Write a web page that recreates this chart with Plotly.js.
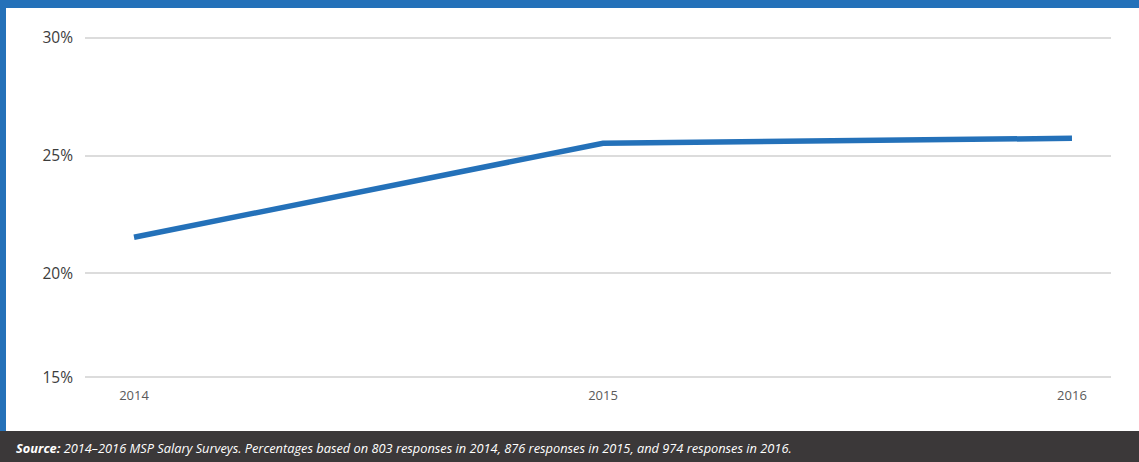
<!DOCTYPE html>
<html>
<head>
<meta charset="utf-8">
<script src="https://cdn.plot.ly/plotly-3.0.1.min.js"></script>
<style>
html,body{margin:0;padding:0;background:#fff;}
#chart{width:1139px;height:462px;}
</style>
</head>
<body>
<div id="chart"></div>
<script>
// ---- data ----
const years = [2014, 2015, 2016];
const shareValues = [21.53, 25.52, 25.73];
const yTickVals = [15.59, 20, 25, 30];
const yTickText = ["15%", "20%", "25%", "30%"];
const xTickVals = [2014, 2015, 2016];
const xTickText = ["2014", "2015", "2016"];
const sourceNote = "<b><i>Source:</i></b><i> 2014\u20132016 MSP Salary Surveys. Percentages based on 803 responses in 2014, 876 responses in 2015, and 974 responses in 2016.</i>";

// ---- layout geometry ----
const W = 1139, H = 462;
const M = {l: 85, r: 28, t: 31, b: 81};
const plotW = W - M.l - M.r, plotH = H - M.t - M.b;
const px2x = px => (px - M.l) / plotW;
const px2y = py => (H - M.b - py) / plotH;

const blue = "#2471b9";
const dark = "#3b3839";

const trace = {
  x: years,
  y: shareValues,
  type: "scatter",
  mode: "lines",
  line: {color: blue, width: 5.5},
  hoverinfo: "skip"
};

const layout = {
  width: W, height: H,
  margin: M,
  paper_bgcolor: "#ffffff",
  plot_bgcolor: "#ffffff",
  showlegend: false,
  font: {family: "Open Sans, sans-serif"},
  xaxis: {
    range: [2013.8955, 2016.0832],
    tickvals: xTickVals,
    ticktext: xTickText,
    showgrid: false,
    zeroline: false,
    showline: false,
    ticks: "",
    ticklabelstandoff: 5,
    tickfont: {family: "Open Sans, sans-serif", size: 13, color: "#5a5a5a"}
  },
  yaxis: {
    range: [15.429, 30.284],
    tickvals: yTickVals,
    ticktext: yTickText,
    showgrid: true,
    gridcolor: "#dcdcdc",
    gridwidth: 2,
    zeroline: false,
    showline: false,
    ticks: "",
    ticklabelstandoff: 11,
    tickfont: {family: "Open Sans, sans-serif", size: 15.5, color: "#3c3c3c"}
  },
  shapes: [
    {type: "rect", xref: "paper", yref: "paper", layer: "below",
     x0: px2x(-10), x1: px2x(W + 10), y0: px2y(8), y1: px2y(-10),
     fillcolor: blue, line: {width: 0}},
    {type: "rect", xref: "paper", yref: "paper", layer: "below",
     x0: px2x(-10), x1: px2x(6), y0: px2y(431), y1: px2y(-10),
     fillcolor: blue, line: {width: 0}},
    {type: "rect", xref: "paper", yref: "paper", layer: "below",
     x0: px2x(-10), x1: px2x(W + 10), y0: px2y(H + 10), y1: px2y(431),
     fillcolor: dark, line: {width: 0}}
  ],
  annotations: [
    {xref: "paper", yref: "paper", x: px2x(14), y: px2y(447.5),
     xanchor: "left", yanchor: "middle", showarrow: false,
     text: sourceNote,
     font: {family: "Open Sans, sans-serif", size: 12.8, color: "#ffffff"}}
  ]
};

Plotly.newPlot("chart", [trace], layout, {staticPlot: true, displayModeBar: false});
</script>
</body>
</html>
